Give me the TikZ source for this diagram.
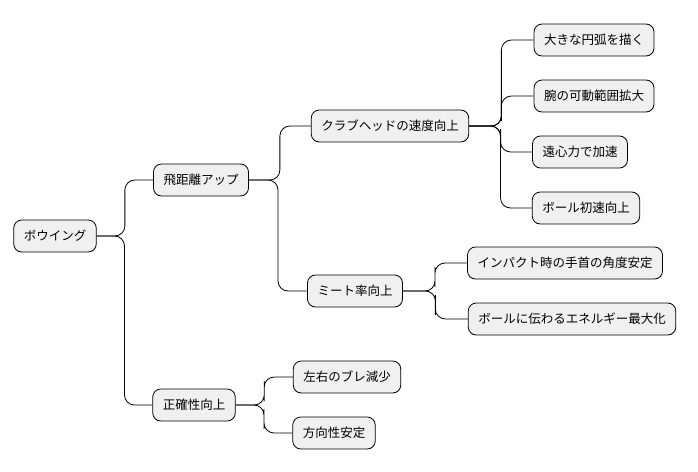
\documentclass[tikz,border=0pt]{standalone}
\usepackage{fontspec}
\setmainfont{Noto Sans CJK JP}
\usetikzlibrary{calc}
\tikzset{
    topic/.style={draw=black, line width=0.8pt, fill=black!6, rounded corners=8pt,
        minimum height=32pt, inner xsep=10pt, font=\fontsize{12.5}{14}\selectfont},
    edge/.style={line width=0.8pt, rounded corners=10pt}
}
\begin{document}
\begin{tikzpicture}[x=1pt,y=-1pt]
\useasboundingbox (0,0) rectangle (698,471);
% root and branches
\node[topic] (root) at (55,236) {ボウイング};
\node[topic] (dist) at (201,180) {飛距離アップ};
\node[topic] (acc) at (194,405) {正確性向上};
\node[topic] (head) at (390,126) {クラブヘッドの速度向上};
\node[topic] (meet) at (355,291) {ミート率向上};
\node[topic] (arc) at (594,40) {大きな円弧を描く};
\node[topic] (arm) at (594,96) {腕の可動範囲拡大};
\node[topic] (cent) at (580,152) {遠心力で加速};
\node[topic] (ball) at (586,208) {ボール初速向上};
\node[topic] (wrist) at (565,263) {インパクト時の手首の角度安定};
\node[topic] (energy) at (572,319) {ボールに伝わるエネルギー最大化};
\node[topic] (lr) at (347,377) {左右のブレ減少};
\node[topic] (dir) at (334,433) {方向性安定};
% connectors
\foreach \p/\c in {root/dist, root/acc, dist/head, dist/meet, head/arc, head/arm,
    head/cent, head/ball, meet/wrist, meet/energy, acc/lr, acc/dir}{
    \draw[edge] (\p.east) -| ($(\p.east)!.5!(\c.west)$) |- (\c.west);
}
\end{tikzpicture}
\end{document}
